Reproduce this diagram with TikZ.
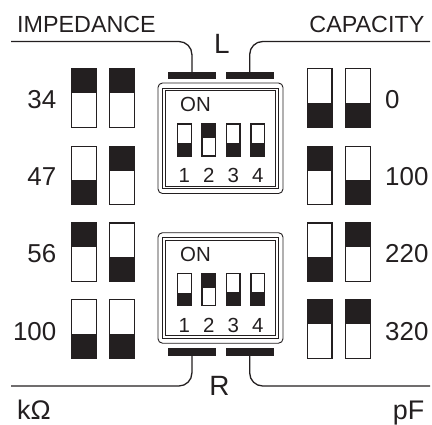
\documentclass[tikz,border=0pt]{standalone}
\usepackage{fontspec}
\setmainfont{Liberation Sans}
\definecolor{ink}{HTML}{231F20}
\tikzset{
  bigtext/.style={text=ink,font=\fontsize{23.4}{23.4}\selectfont,inner sep=0pt},
  valtext/.style={text=ink,font=\fontsize{26}{26}\selectfont,inner sep=0pt},
  unittext/.style={text=ink,font=\fontsize{28}{28}\selectfont,inner sep=0pt},
  bottomtext/.style={text=ink,font=\fontsize{27}{27}\selectfont,inner sep=0pt},
  smalltext/.style={text=ink,font=\fontsize{20.5}{20.5}\selectfont,inner sep=0pt,anchor=base},
  bar/.style={fill=ink,draw=none,minimum width=48.2bp,minimum height=7.8bp,inner sep=0pt},
  wire/.style={draw=ink,line width=1.3bp,rounded corners=13bp},
  frame/.style={draw=ink,line width=0.9bp},
  swbody/.style={draw=ink,line width=1.3bp,fill=white},
  swfill/.style={fill=ink,draw=none}
}
\newcommand{\swup}[5]{\draw[swbody] (#1+.65,#2+.65) rectangle (#1+#3-.65,#2+#4-.65);
  \fill[swfill] (#1,#2) rectangle (#1+#3,#2+#5);}
\newcommand{\swdn}[5]{\draw[swbody] (#1+.65,#2+.65) rectangle (#1+#3-.65,#2+#4-.65);
  \fill[swfill] (#1,#2+#4-#5) rectangle (#1+#3,#2+#4);}
\newcommand{\dipbox}[1]{%
  \draw[frame,rounded corners=4.5bp] (158,#1) rectangle (283,#1+110.5);
  \draw[frame] (162.8,#1+5) rectangle (278.2,#1+105.5);
  \draw[frame] (165.2,#1+7.4) rectangle (275.8,#1+103.1);
  \node[smalltext] at (195.5,#1+28.6) {ON};
  \swdn{176.8}{#1+40.3}{15}{33.4}{13.4}
  \swup{201.2}{#1+40.3}{15}{33.4}{14.6}
  \swdn{225.7}{#1+40.3}{15}{33.4}{14}
  \swdn{250.2}{#1+40.3}{15}{33.4}{14}
  \node[smalltext] at (184.3,#1+99.6) {1};
  \node[smalltext] at (208.7,#1+99.6) {2};
  \node[smalltext] at (233.2,#1+99.6) {3};
  \node[smalltext] at (257.7,#1+99.6) {4};
}
\begin{document}
\begin{tikzpicture}[x=1bp,y=-1bp]
\useasboundingbox (0,0) rectangle (432,425);
% labels
\node[bigtext,anchor=base west] (imp) at (17,32) {IMPEDANCE};
\node[bigtext,anchor=base east] (cap) at (424.5,32) {CAPACITY};
\node[unittext,anchor=base] (lbl) at (222,53) {L};
\node[unittext,anchor=base] (rbl) at (219.5,395.5) {R};
\node[bottomtext,anchor=base west] (kohm) at (17,419.2) {kΩ};
\node[bottomtext,anchor=base east] (pf) at (424.5,419.2) {pF};
% bars and wires
\node[bar] (tl) at (191.9,75.5) {};
\node[bar] (tr) at (249.7,75.5) {};
\node[bar] (bl) at (191.9,351.7) {};
\node[bar] (br) at (249.7,351.7) {};
\coordinate (ftl) at (11,41.5);
\coordinate (ftr) at (430,41.5);
\coordinate (fbl) at (11,386);
\coordinate (fbr) at (430,386);
\draw[wire] (tl.center) |- (ftl);
\draw[wire] (tr.center) |- (ftr);
\draw[wire] (bl.center) |- (fbl);
\draw[wire] (br.center) |- (fbr);
% DIP blocks
\dipbox{83}
\dipbox{232.7}
% left switches
\swup{70.8}{68}{26}{60}{25}   \swup{109}{68}{26}{60}{25}
\swdn{70.8}{145.7}{26}{59.5}{25} \swup{109}{145.7}{26}{59.5}{25}
\swup{70.8}{222.3}{26}{59.7}{25} \swdn{109}{222.3}{26}{59.7}{25}
\swdn{70.8}{299}{26}{60}{25}  \swdn{109}{299}{26}{60}{25}
% right switches
\swdn{306.7}{68}{26}{60}{25}  \swdn{345}{68}{26}{60}{25}
\swup{306.7}{145.7}{26}{59.5}{25} \swdn{345}{145.7}{26}{59.5}{25}
\swdn{306.7}{222.3}{26}{59.7}{25} \swup{345}{222.3}{26}{59.7}{25}
\swup{306.7}{299}{26}{60}{25}  \swup{345}{299}{26}{60}{25}
% values
\node[valtext,anchor=base east] (a) at (56.5,108) {34};
\node[valtext,anchor=base east] (b) at (56.5,185) {47};
\node[valtext,anchor=base east] (c) at (56.5,262) {56};
\node[valtext,anchor=base east] (d) at (56.5,340) {100};
\node[valtext,anchor=base west] (e) at (385,108) {0};
\node[valtext,anchor=base west] (f) at (385,185) {100};
\node[valtext,anchor=base west] (g) at (385,262) {220};
\node[valtext,anchor=base west] (h) at (385,340) {320};
\end{tikzpicture}
\end{document}
